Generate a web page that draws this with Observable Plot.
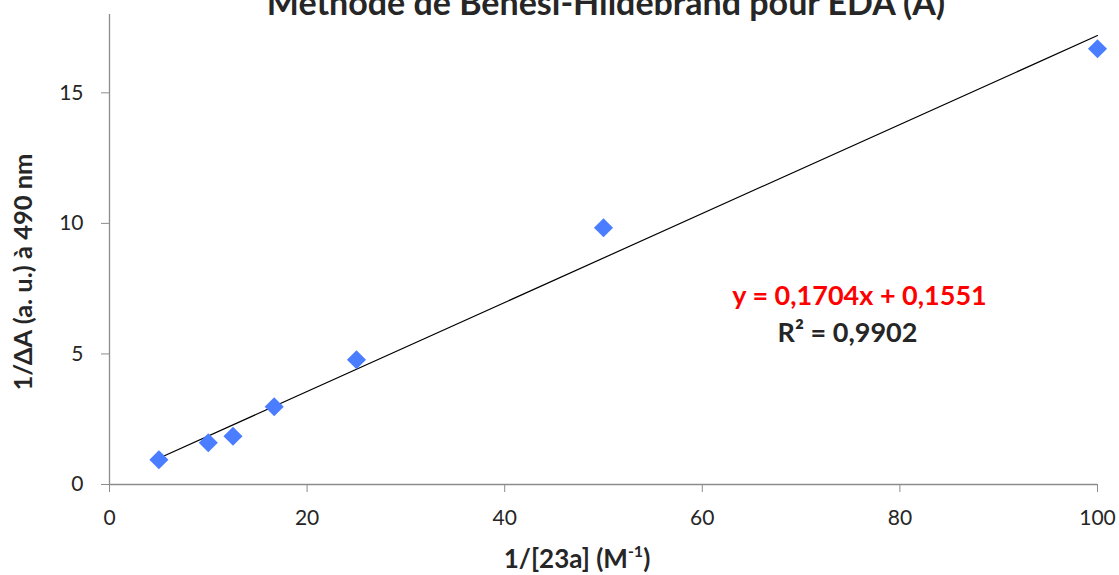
<!DOCTYPE html>
<html><head><meta charset="utf-8">
<script src="https://cdn.jsdelivr.net/npm/d3@7"></script>
<script src="https://cdn.jsdelivr.net/npm/@observablehq/plot@0.6"></script>
<style>
body{margin:0;background:#fff;font-family:Lato,"Open Sans",sans-serif;}
#wrap{position:relative;width:1119px;height:575px;overflow:hidden;}
.lab{position:absolute;white-space:nowrap;font-weight:bold;color:#262626;line-height:1;}
#title{left:606px;top:-15.5px;transform:translateX(-50%);font-size:34px;}
#ylab{left:23px;top:272px;transform:translate(-50%,-50%) rotate(-90deg);font-size:25.5px;}
#xlab{left:577px;top:558px;transform:translate(-50%,-50%);font-size:26px;}
#xlab sup{font-size:16px;vertical-align:11px;line-height:0;}
#chart{position:absolute;left:0;top:0;}
</style></head>
<body><div id="wrap">
<div id="chart"></div>
<div class="lab" id="title">Méthode de Benesi-Hildebrand pour EDA (A)</div>
<div class="lab" id="ylab">1/ΔA (a. u.) à 490 nm</div>
<div class="lab" id="xlab">1/[23a] (M<sup>-1</sup>)</div>
</div>
<script>
// data
const xValues = [5, 10, 12.5, 16.67, 25, 50, 100];
const yValues = [0.95, 1.6, 1.85, 2.98, 4.78, 9.83, 16.69];
const xTicks = [0, 20, 40, 60, 80, 100];
const yTicks = [0, 5, 10, 15];
const slope = 0.1704;
const intercept = 0.1551;
const r2 = "0,9902";
const fitX = [5, 100];

const points = xValues.map((x, i) => ({x, y: yValues[i]}));
const fit = fitX.map(x => ({x, y: slope * x + intercept}));
const eqText = "y = 0,1704x + 0,1551";
const r2Text = "R² = " + r2;

const axisColor = "#8c8c8c";
const chart = Plot.plot({
  width: 1119, height: 575,
  marginLeft: 109, marginRight: 22, marginTop: 14, marginBottom: 91,
  x: {domain: [0, 100]},
  y: {domain: [0, 18]},
  style: {fontFamily: "Lato, 'Open Sans', sans-serif", fontSize: "21px", color: "#262626", background: "#fff"},
  marks: [
    Plot.ruleY([0], {stroke: axisColor, strokeWidth: 1.3}),
    Plot.ruleX([0], {stroke: axisColor, strokeWidth: 1.3}),
    Plot.axisX({ticks: xTicks, tickSize: 8, tickPadding: 18, stroke: axisColor, label: null, tickFormat: d => String(d)}),
    Plot.axisY({ticks: yTicks, tickSize: 8, tickPadding: 18, stroke: axisColor, label: null, tickFormat: d => String(d)}),
    Plot.line(fit, {x: "x", y: "y", stroke: "#000", strokeWidth: 1.2}),
    Plot.dot(points, {x: "x", y: "y", symbol: "diamond2", r: 8.6, fill: "#4a7dff", stroke: null}),
    Plot.text([eqText], {frameAnchor: "top-left", dx: 750, dy: 282, fill: "#ff0000", fontWeight: "bold", fontSize: 27, textAnchor: "middle", lineAnchor: "middle"}),
    Plot.text([r2Text], {frameAnchor: "top-left", dx: 738, dy: 319, fill: "#262626", fontWeight: "bold", fontSize: 27, textAnchor: "middle", lineAnchor: "middle"})
  ]
});
document.getElementById("chart").appendChild(chart);
</script>
</body></html>
